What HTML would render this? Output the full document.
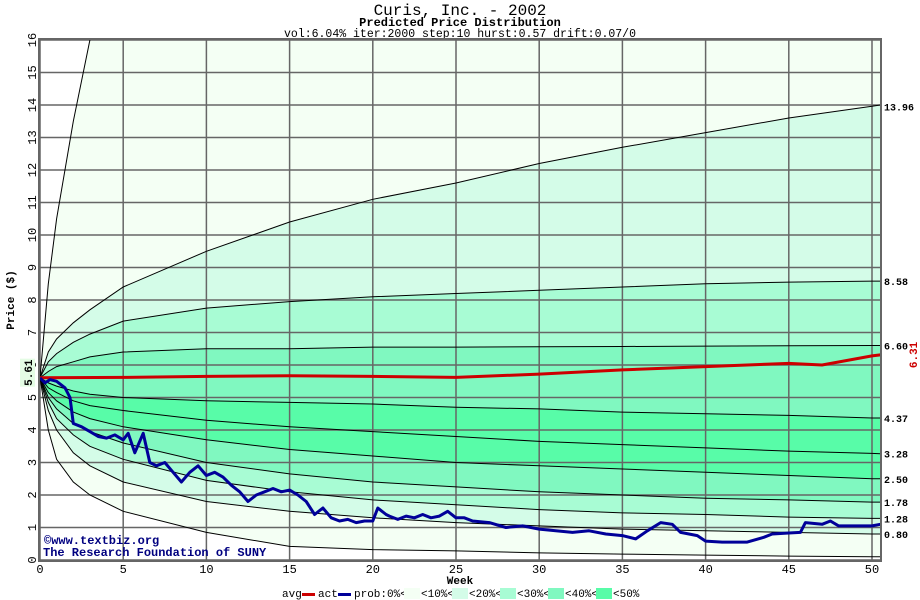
<!DOCTYPE html>
<html><head><meta charset="utf-8"><style>
body{margin:0;background:#fff;width:920px;height:600px;overflow:hidden}
svg{display:block;font-family:"Liberation Mono",monospace}
</style></head><body>
<svg id="chart" width="920" height="600">
<text x="460" y="15" text-anchor="middle" font-size="16">Curis, Inc. - 2002</text>
<text x="460" y="26" text-anchor="middle" font-size="12" font-weight="bold">Predicted Price Distribution</text>
<text x="460" y="37" text-anchor="middle" font-size="11.5">vol:6.04% iter:2000 step:10 hurst:0.57 drift:0.07/0</text>
<defs><clipPath id="pc"><rect x="40" y="40" width="841" height="520"/></clipPath></defs>
<g id="bands" clip-path="url(#pc)"></g>
<g id="grid"></g>
<g id="curves" clip-path="url(#pc)"></g>
<g id="series" clip-path="url(#pc)"></g>
<rect x="39" y="39" width="842" height="522" fill="none" stroke="#666" stroke-width="2"/>
<g id="axes"></g>
<text x="44" y="544" font-size="12" font-weight="bold" fill="#000080">©www.textbiz.org</text>
<text x="43" y="556" font-size="12" font-weight="bold" fill="#000080">The Research Foundation of SUNY</text>
<text x="460" y="584" text-anchor="middle" font-size="11" font-weight="bold">Week</text>
<text transform="translate(14,300) rotate(-90)" text-anchor="middle" font-size="11" font-weight="bold">Price ($)</text>
<g font-size="11">
<text x="282" y="597">avg</text>
<rect x="302" y="593" width="13" height="3" fill="#cc0000"/>
<text x="318" y="597">act</text>
<rect x="338" y="593" width="13" height="3" fill="#000099"/>
<text x="354" y="597">prob:0%&lt;</text>
<rect x="404" y="588" width="16" height="11" fill="#f4fff4"/>
<text x="421" y="597">&lt;10%&lt;</text>
<rect x="452" y="588" width="16" height="11" fill="#d4fce8"/>
<text x="469" y="597">&lt;20%&lt;</text>
<rect x="500" y="588" width="16" height="11" fill="#a8fcd4"/>
<text x="517" y="597">&lt;30%&lt;</text>
<rect x="548" y="588" width="16" height="11" fill="#80f8c0"/>
<text x="565" y="597">&lt;40%&lt;</text>
<rect x="596" y="588" width="16" height="11" fill="#58fca8"/>
<text x="613" y="597">&lt;50%</text>
</g>
</svg>
<script>
var weeks=[0,0.5,1,2,3,5,10,15,20,25,30,35,40,45,50,50.5];
var qTop=[5.61,8.5,10.5,13.5,16,20,25,30,34,38,42,46,50,54,58,58];
var q1396=[5.61,6.4,6.8,7.3,7.7,8.4,9.5,10.4,11.1,11.6,12.2,12.7,13.15,13.6,13.96,14.0];
var q858=[5.61,6.1,6.35,6.7,6.95,7.35,7.75,7.95,8.1,8.2,8.3,8.4,8.5,8.55,8.58,8.58];
var q660=[5.61,5.8,5.95,6.1,6.25,6.4,6.5,6.5,6.55,6.55,6.56,6.57,6.58,6.59,6.60,6.60];
var q437=[5.61,5.45,5.35,5.2,5.1,5.0,4.9,4.85,4.8,4.7,4.65,4.55,4.5,4.45,4.37,4.37];
var q328=[5.61,5.3,5.15,4.9,4.75,4.6,4.3,4.1,3.95,3.8,3.65,3.55,3.45,3.35,3.28,3.27];
var q250=[5.61,5.15,4.9,4.55,4.35,4.1,3.7,3.4,3.2,3.0,2.9,2.8,2.7,2.6,2.5,2.5];
var q178=[5.61,5.0,4.65,4.2,3.95,3.6,3.0,2.65,2.4,2.25,2.1,2.0,1.9,1.85,1.78,1.78];
var q128=[5.61,4.85,4.35,3.85,3.5,3.1,2.45,2.1,1.85,1.7,1.55,1.45,1.4,1.32,1.28,1.28];
var q080=[5.61,4.6,4.0,3.3,2.9,2.4,1.8,1.5,1.3,1.15,1.05,0.95,0.9,0.85,0.8,0.8];
var qBot=[5.61,4.0,3.1,2.4,2.0,1.5,0.85,0.42,0.32,0.28,0.22,0.18,0.15,0.12,0.1,0.1];
var endLabels=["13.96","8.58","6.60","4.37","3.28","2.50","1.78","1.28","0.80"];
var actWeeks=[0,5,10,15,20,25,30,35,40,45,47,50,50.5];
var actVals=[5.61,5.62,5.65,5.67,5.65,5.62,5.72,5.85,5.95,6.05,6.0,6.28,6.31];
var probWeeks=[0,0.3,0.6,1,1.5,1.8,2,2.5,3,3.5,4,4.5,5,5.3,5.7,6.2,6.6,7,7.5,8,8.5,9,9.5,10,10.5,11,11.5,12,12.5,13,13.5,14,14.5,15,15.5,16,16.5,17,17.5,18,18.5,19,19.5,20,20.3,20.8,21,21.5,22,22.5,23,23.5,24,24.5,25,25.5,26,27,28,29,30,31,32,33,34,35,35.8,36.5,37.3,38,38.5,39.5,40,41,42,42.5,43.5,44,45,45.7,46,47,47.5,48,49,50,50.5];
var probVals=[5.6,5.45,5.55,5.5,5.3,5.0,4.2,4.1,3.95,3.8,3.75,3.85,3.7,3.9,3.3,3.9,3.0,2.9,3.0,2.7,2.4,2.7,2.9,2.6,2.7,2.55,2.3,2.1,1.8,2.0,2.1,2.2,2.1,2.15,2.0,1.8,1.4,1.6,1.3,1.2,1.25,1.15,1.2,1.2,1.6,1.4,1.35,1.25,1.35,1.3,1.4,1.3,1.35,1.5,1.3,1.3,1.2,1.15,1.0,1.05,0.95,0.9,0.85,0.9,0.8,0.75,0.65,0.9,1.15,1.1,0.85,0.75,0.58,0.55,0.55,0.55,0.7,0.8,0.83,0.85,1.15,1.1,1.2,1.05,1.05,1.05,1.1];
var yTicks=[0,1,2,3,4,5,6,7,8,9,10,11,12,13,14,15,16];
var xTicks=[0,5,10,15,20,25,30,35,40,45,50];
var startPrice=5.61, endAct=6.31;

var NS="http://www.w3.org/2000/svg";
function X(w){return 40+w*16.64;}
function Y(p){return 560-p*32.5;}
function mk(t,parent){var e=document.createElementNS(NS,t);document.getElementById(parent).appendChild(e);return e;}
var curves=[qTop,q1396,q858,q660,q437,q328,q250,q178,q128,q080,qBot];
var fills=["#f4fff4","#d4fce8","#a8fcd4","#80f8c0","#58fca8","#58fca8","#80f8c0","#a8fcd4","#d4fce8","#f4fff4"];
function pts(ws,vs){return ws.map(function(w,i){return X(w).toFixed(1)+","+Y(vs[i]).toFixed(1);});}
for(var i=0;i<curves.length-1;i++){
  var a=pts(weeks,curves[i]),b=pts(weeks,curves[i+1]).reverse();
  var p=mk("polygon","bands");
  
  
  p.setAttribute("points",a.concat(b).join(" "));p.setAttribute("fill",fills[i]);
}
yTicks.forEach(function(v){
  var l=mk("line","grid");
  
  
  l.setAttribute("x1",40);l.setAttribute("x2",881);l.setAttribute("y1",Y(v));l.setAttribute("y2",Y(v));
  l.setAttribute("stroke","#666");l.setAttribute("stroke-width","1.5");
  var t=mk("text","axes");
  
  
  t.setAttribute("transform","translate(36,"+Y(v)+") rotate(-90)");t.setAttribute("text-anchor","middle");
  t.setAttribute("font-size","12");t.textContent=v;
});
xTicks.forEach(function(v){
  var l=mk("line","grid");
  
  
  l.setAttribute("x1",X(v));l.setAttribute("x2",X(v));l.setAttribute("y1",40);l.setAttribute("y2",560);
  l.setAttribute("stroke","#666");l.setAttribute("stroke-width","1.5");
  var t=mk("text","axes");
  
  
  t.setAttribute("x",X(v));t.setAttribute("y",573);t.setAttribute("text-anchor","middle");
  t.setAttribute("font-size","12");t.textContent=v;
});
curves.forEach(function(c,i){
  var pl=mk("polyline","curves");
  
  
  pl.setAttribute("points",pts(weeks,c).join(" "));pl.setAttribute("fill","none");
  pl.setAttribute("stroke","#000");pl.setAttribute("stroke-width","1");
});
endLabels.forEach(function(s,i){
  var t=mk("text","axes");
  
  
  t.setAttribute("x",884);t.setAttribute("y",Y(curves[i+1][14])+4);
  t.setAttribute("font-size","10");t.setAttribute("font-weight","bold");t.textContent=s;
});
var act=mk("polyline","series");


act.setAttribute("points",pts(actWeeks,actVals).join(" "));act.setAttribute("fill","none");
act.setAttribute("stroke","#cc0000");act.setAttribute("stroke-width","3");
var pr=mk("polyline","series");


pr.setAttribute("points",pts(probWeeks,probVals).join(" "));pr.setAttribute("fill","none");
pr.setAttribute("stroke","#000099");pr.setAttribute("stroke-width","3");pr.setAttribute("stroke-linejoin","round");
var bg=mk("rect","axes");


bg.setAttribute("x",20);bg.setAttribute("y",Y(startPrice)-19);bg.setAttribute("width",15);bg.setAttribute("height",28);bg.setAttribute("fill","#e4fce4");
var sp=mk("text","axes");


sp.setAttribute("transform","translate(32,"+(Y(startPrice)-5)+") rotate(-90)");sp.setAttribute("text-anchor","middle");
sp.setAttribute("font-size","11");sp.setAttribute("font-weight","bold");sp.textContent=startPrice.toFixed(2);
var ep=mk("text","axes");


ep.setAttribute("transform","translate(917,"+Y(endAct)+") rotate(-90)");ep.setAttribute("text-anchor","middle");
ep.setAttribute("font-size","11");ep.setAttribute("font-weight","bold");ep.setAttribute("fill","#cc0000");ep.textContent=endAct.toFixed(2);
</script>
</body></html>
